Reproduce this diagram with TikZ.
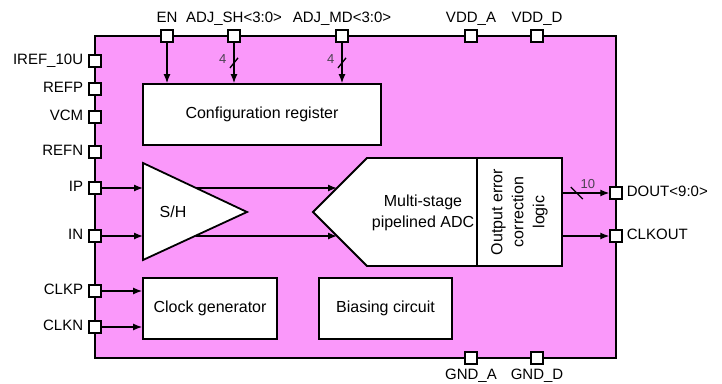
\documentclass[tikz,border=0pt]{standalone}
\usepackage{fontspec}
\setmainfont{Liberation Sans}
\usetikzlibrary{arrows.meta}

\definecolor{chipfill}{RGB}{250,152,250}
\definecolor{busgray}{RGB}{75,65,80}

\tikzset{
  pin/.style={draw,fill=white,line width=1.4pt,minimum size=12pt,inner sep=0pt},
  pinlbl/.style={font=\fontsize{15}{17}\selectfont,inner sep=1pt,text height=11pt,text depth=3.5pt},
  block/.style={draw,fill=white,line width=1.8pt,inner sep=0pt},
  blocktext/.style={font=\fontsize{16}{21}\selectfont,align=center,inner sep=1pt},
  buslbl/.style={font=\fontsize{13}{15}\selectfont,text=busgray,inner sep=0.5pt},
  sig/.style={line width=1.3pt,-{Latex[length=9pt,width=7pt]}},
}

\begin{document}
\begin{tikzpicture}[x=1pt,y=1pt,yscale=-1]
\path[use as bounding box] (0,0) rectangle (722,383);

% chip outline
\node[draw,fill=chipfill,line width=2pt,minimum width=521pt,minimum height=322pt,inner sep=0pt] (chip) at (355.5,197) {};

% blocks
\node[block,minimum width=238pt,minimum height=61pt] (cfg) at (262,114.5) {};
\node[blocktext] (cfgtxt) at (cfg) {Configuration register};
\node[block,minimum width=134pt,minimum height=61pt] (clkgen) at (210,308.5) {};
\node[blocktext] (clktxt) at (clkgen) {Clock generator};
\node[block,minimum width=133pt,minimum height=61pt] (bias) at (385.5,308.5) {};
\node[blocktext] (biastxt) at (bias) {Biasing circuit};

% S/H
\draw[fill=white,line width=1.8pt] (143,163) coordinate (shtop) -- (247,212) coordinate (shtip) -- (143,260) coordinate (shbot) -- cycle;
\node[blocktext] (sh) at (173,212) {S/H};
\coordinate (shout1) at (196,188);
\coordinate (shout2) at (196,236);

% ADC + error correction
\draw[fill=white,line width=1.8pt] (313,212) coordinate (adctip) -- (367,158) -- (562,158) -- (562,266) -- (367,266) -- cycle;
\coordinate (adcin1) at (337,188);
\coordinate (adcin2) at (337,236);
\node[blocktext] (adc) at (423,213) {Multi-stage\\pipelined ADC};
\node[block,minimum width=85pt,minimum height=108pt] (ecc) at (519.5,212) {};
\node[blocktext,rotate=90] (ecctxt) at (ecc) {Output error\\correction\\logic};

% top pins
\node[pin,label={[pinlbl,label distance=2.5pt]above:EN}] (en) at (167,36) {};
\node[pin,label={[pinlbl,label distance=2.5pt]above:ADJ\_SH<3:0>}] (adjsh) at (234,36) {};
\node[pin,label={[pinlbl,label distance=2.5pt]above:ADJ\_MD<3:0>}] (adjmd) at (342,36) {};
\node[pin,label={[pinlbl,label distance=2.5pt]above:VDD\_A}] (vdda) at (471,36) {};
\node[pin,label={[pinlbl,label distance=2.5pt]above:VDD\_D}] (vddd) at (537,36) {};

% bottom pins
\node[pin,label={[pinlbl,label distance=2.5pt]below:GND\_A}] (gnda) at (471,358) {};
\node[pin,label={[pinlbl,label distance=2.5pt]below:GND\_D}] (gndd) at (537,358) {};

% left pins
\node[pin,label={[pinlbl,label distance=4pt]left:IREF\_10U}] (iref) at (95,61) {};
\node[pin,label={[pinlbl,label distance=4pt]left:REFP}] (refp) at (95,89) {};
\node[pin,label={[pinlbl,label distance=4pt]left:VCM}] (vcm) at (95,117) {};
\node[pin,label={[pinlbl,label distance=4pt]left:REFN}] (refn) at (95,152) {};
\node[pin,label={[pinlbl,label distance=4pt]left:IP}] (ip) at (95,188) {};
\node[pin,label={[pinlbl,label distance=4pt]left:IN}] (in) at (95,236) {};
\node[pin,label={[pinlbl,label distance=4pt]left:CLKP}] (clkp) at (95,291) {};
\node[pin,label={[pinlbl,label distance=4pt]left:CLKN}] (clkn) at (95,327) {};

% right pins
\node[pin,label={[pinlbl,label distance=3pt]right:DOUT<9:0>}] (dout) at (616,193) {};
\node[pin,label={[pinlbl,label distance=3pt]right:CLKOUT}] (clkout) at (616,236) {};

% connections
\draw[sig] (en) -- (en |- cfg.north);
\draw[sig] (adjsh) -- coordinate[pos=0.5] (bus1) (adjsh |- cfg.north);
\draw[line width=1.3pt] (bus1) ++(-4,5) -- ++(8,-10);
\node[buslbl,anchor=east] (w1) at ([shift={(-7,-4)}]bus1) {4};
\draw[sig] (adjmd) -- coordinate[pos=0.5] (bus2) (adjmd |- cfg.north);
\draw[line width=1.3pt] (bus2) ++(-4,5) -- ++(8,-10);
\node[buslbl,anchor=east] (w2) at ([shift={(-7,-4)}]bus2) {4};

\draw[sig] (ip) -- (ip -| shtop);
\draw[sig] (in) -- (in -| shtop);
\draw[sig] (shout1) -- (adcin1);
\draw[sig] (shout2) -- (adcin2);

\draw[sig] (ecc.east |- dout) -- coordinate[pos=0.3] (bus3) (dout);
\draw[line width=1.3pt] (bus3) ++(-6,-6) -- ++(12,12);
\node[buslbl,anchor=west] (w3) at ([shift={(3,-9)}]bus3) {10};
\draw[sig] (ecc.east |- clkout) -- (clkout);

\draw[sig] (clkp) -- (clkp -| clkgen.west);
\draw[sig] (clkn) -- (clkn -| clkgen.west);
\end{tikzpicture}
\end{document}
